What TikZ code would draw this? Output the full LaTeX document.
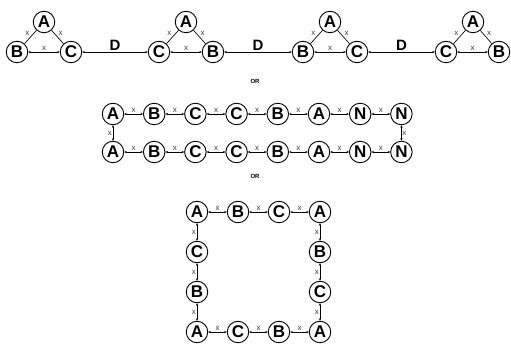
\documentclass[tikz,border=0pt]{standalone}
\usepackage{fontspec}
\setmainfont{Liberation Sans}
\usetikzlibrary{arrows.meta}
\tikzset{
  nd/.style={circle, draw, line width=0.9pt, minimum size=21.5pt, inner sep=0pt, font=\bfseries\fontsize{17}{17}\selectfont},
  lk/.style={{Stealth[length=2.6pt,width=2.2pt]}-{Stealth[length=2.6pt,width=2.2pt]}, line width=0.55pt},
  pl/.style={line width=0.65pt},
  xl/.style={font=\fontsize{8}{8}\selectfont, inner sep=0.8pt, text=black!75},
  dl/.style={font=\bfseries\fontsize{15}{15}\selectfont, inner sep=1.5pt},
  orl/.style={font=\bfseries\fontsize{6}{6}\selectfont}
}
\begin{document}
\begin{tikzpicture}[x=1pt,y=-1pt]
\useasboundingbox (0,0) rectangle (511,344);
% triangles
\foreach \n/\l/\a/\r/\xl/\xa/\xr in {1/B/A/C/17/44/71, 2/C/A/B/159/186/213, 3/B/A/C/303/330/357, 4/C/A/B/446/473/499}{
  \node[nd] (t\n l) at (\xl,52) {\l};
  \node[nd] (t\n a) at (\xa,22) {\a};
  \node[nd] (t\n r) at (\xr,52) {\r};
  \draw[pl] (t\n a) -- node[xl, above left] {x} (t\n l);
  \draw[pl] (t\n a) -- node[xl, above right] {x} (t\n r);
  \draw[lk] (t\n l) -- node[xl, above] {x} (t\n r);
}
\draw[lk] (t1r) -- node[dl, above] {D} (t2l);
\draw[lk] (t2r) -- node[dl, above] {D} (t3l);
\draw[lk] (t3r) -- node[dl, above] {D} (t4l);
\node[orl] (or1) at (255,81) {OR};
% middle chain
\foreach \i/\l in {0/A,1/B,2/C,3/C,4/B,5/A,6/N,7/N}{
  \node[nd] (u\i) at (113+41.2*\i,114) {\l};
  \node[nd] (v\i) at (113+41.2*\i,152) {\l};
}
\foreach \i [evaluate=\i as \j using int(\i+1)] in {0,...,6}{
  \draw[lk] (u\i) -- node[xl, above] {x} (u\j);
  \draw[lk] (v\i) -- node[xl, above] {x} (v\j);
}
\draw[lk] (u0) -- node[xl, left] {x} (v0);
\draw[lk] (u7) -- node[xl, right] {x} (v7);
\node[orl] (or2) at (255,176) {OR};
% square
\node[nd] (s00) at (197,212) {A};
\node[nd] (s10) at (238,212) {B};
\node[nd] (s20) at (279,212) {C};
\node[nd] (s30) at (320,212) {A};
\node[nd] (s01) at (197,252) {C};
\node[nd] (s02) at (197,292) {B};
\node[nd] (s03) at (197,332) {A};
\node[nd] (s31) at (320,252) {B};
\node[nd] (s32) at (320,292) {C};
\node[nd] (s33) at (320,332) {A};
\node[nd] (s13) at (238,332) {C};
\node[nd] (s23) at (279,332) {B};
\draw[lk] (s00) -- node[xl, above] {x} (s10);
\draw[lk] (s10) -- node[xl, above] {x} (s20);
\draw[lk] (s20) -- node[xl, above] {x} (s30);
\draw[lk] (s03) -- node[xl, above] {x} (s13);
\draw[lk] (s13) -- node[xl, above] {x} (s23);
\draw[lk] (s23) -- node[xl, above] {x} (s33);
\draw[lk] (s00) -- node[xl, left] {x} (s01);
\draw[lk] (s01) -- node[xl, left] {x} (s02);
\draw[lk] (s02) -- node[xl, left] {x} (s03);
\draw[lk] (s30) -- node[xl, left] {x} (s31);
\draw[lk] (s31) -- node[xl, left] {x} (s32);
\draw[lk] (s32) -- node[xl, left] {x} (s33);
\end{tikzpicture}
\end{document}
